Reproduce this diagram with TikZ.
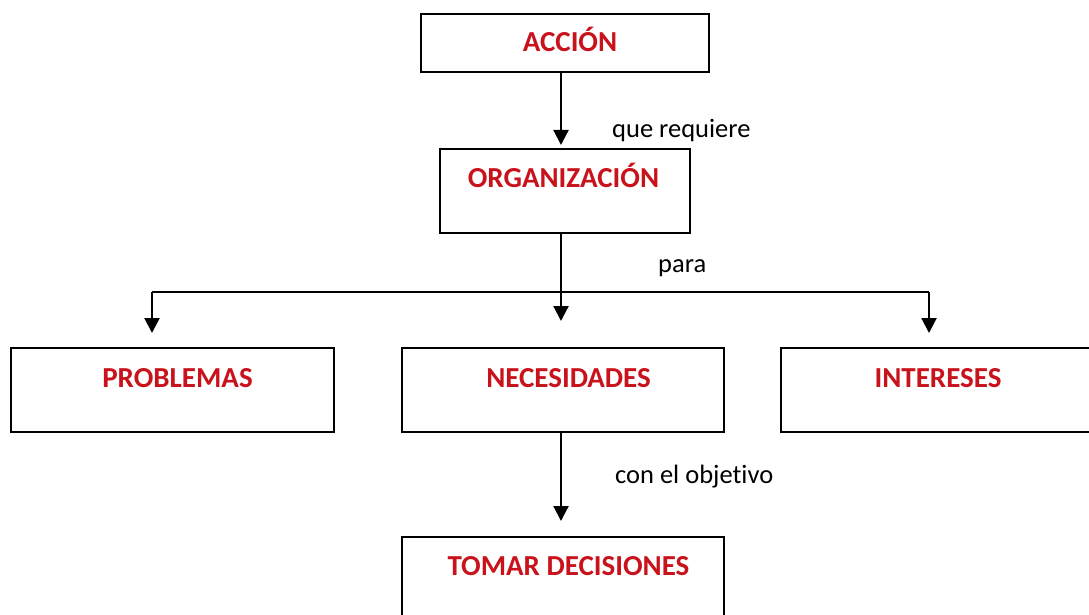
\documentclass[tikz,border=0pt]{standalone}
\usepackage{fontspec}
\setmainfont[Ligatures=NoCommon]{Carlito}
\usetikzlibrary{arrows.meta}
\definecolor{boxred}{RGB}{200,18,28}
\begin{document}
\begin{tikzpicture}[x=1pt,y=-1pt,
  cbox/.style={draw=black,line width=2.2pt,inner sep=0pt,anchor=north west},
  ctext/.style={text=boxred,font=\bfseries\fontsize{29}{34}\selectfont,inner sep=0pt,anchor=base},
  clabel/.style={font=\fontsize{26.5}{30}\selectfont,inner sep=0pt,anchor=base west},
  conn/.style={line width=2.2pt,-{Triangle[width=15pt,length=15pt]}},
  plainline/.style={line width=2.2pt}]
\useasboundingbox (0,0) rectangle (1089,615);
% boxes
\node[cbox,minimum width=288pt,minimum height=58pt] (acc) at (420,13) {};
\node[cbox,minimum width=250pt,minimum height=84pt] (org) at (439,148) {};
\node[cbox,minimum width=323pt,minimum height=84pt] (prob) at (10,347) {};
\node[cbox,minimum width=322pt,minimum height=84pt] (nec) at (401,347) {};
\node[cbox,minimum width=330pt,minimum height=84pt] (int) at (780,347) {};
\node[cbox,minimum width=322pt,minimum height=90pt] (tom) at (401,536) {};
% texts
\node[ctext] (tacc) at (570,52) {ACCIÓN};
\node[ctext] (torg) at (563.5,187) {ORGANIZACIÓN};
\node[ctext] (tprob) at (177.5,387) {PROBLEMAS};
\node[ctext] (tnec) at (568.5,387) {NECESIDADES};
\node[ctext] (tint) at (938,387) {INTERESES};
\node[ctext] (ttom) at (568.5,575) {TOMAR DECISIONES};
% labels
\node[clabel] (lreq) at (612,138) {que requiere};
\node[clabel] (lpara) at (658,272) {para};
\node[clabel] (lobj) at (615,483) {con el objetivo};
% coordinates
\coordinate (j) at (561,292);
\coordinate (jl) at (152,292);
\coordinate (jr) at (929,292);
\coordinate (tipm) at (561,321);
\coordinate (tipl) at (152,333);
\coordinate (tipr) at (929,333);
% connectors
\draw[conn] (acc.south -| j) -- (561,145);
\draw[plainline] (org.south -| j) -- (j);
\draw[plainline] (jl) -- (jr);
\draw[conn] (j) -- (tipm);
\draw[conn] (jl) -- (tipl);
\draw[conn] (jr) -- (tipr);
\draw[conn] (nec.south -| j) -- (561,521);
\end{tikzpicture}
\end{document}
